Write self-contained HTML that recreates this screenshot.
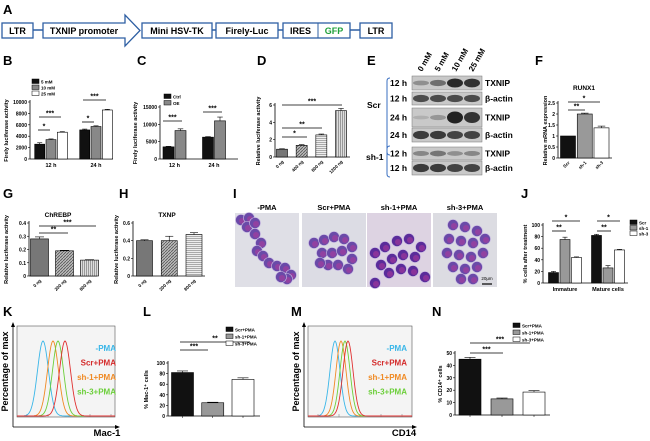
<!DOCTYPE html>
<html><head><meta charset="utf-8">
<style>
html,body{margin:0;padding:0;background:#fff;}
svg{display:block;font-family:"Liberation Sans",Arial,sans-serif;}
</style></head>
<body>
<svg id="fig" width="650" height="441" viewBox="0 0 650 441">
<defs>
<pattern id="hatch" width="3" height="3" patternUnits="userSpaceOnUse"><rect width="3" height="3" fill="#bbb"/><path d="M0,3 L3,0" stroke="#555" stroke-width="0.8"/></pattern>
<pattern id="vstripe" width="2" height="2" patternUnits="userSpaceOnUse"><rect width="2" height="2" fill="#ddd"/><rect width="1" height="2" fill="#999"/></pattern>
<pattern id="hstripe" width="2" height="2" patternUnits="userSpaceOnUse"><rect width="2" height="2" fill="#eee"/><rect width="2" height="1" fill="#aaa"/></pattern>
</defs>
<rect width="650" height="441" fill="#fff"/>

<g font-weight="bold" font-size="9">
<line x1="33" y1="30" x2="43" y2="30" stroke="#2e5fa3" stroke-width="1.5"/>
<line x1="212" y1="30" x2="216" y2="30" stroke="#2e5fa3" stroke-width="1.5"/>
<line x1="278" y1="30" x2="283" y2="30" stroke="#2e5fa3" stroke-width="1.5"/>
<line x1="350" y1="30" x2="360" y2="30" stroke="#2e5fa3" stroke-width="1.5"/>
<rect x="2" y="23" width="31" height="15" fill="#fff" stroke="#2e5fa3" stroke-width="1.3"/>
<text x="17.5" y="34" text-anchor="middle">LTR</text>
<polygon points="43,23 125,23 125,15 140,30.5 125,46 125,38 43,38" fill="#fff" stroke="#2e5fa3" stroke-width="1.3"/>
<text x="84" y="34" text-anchor="middle">TXNIP promoter</text>
<rect x="142" y="23" width="70" height="15" fill="#fff" stroke="#2e5fa3" stroke-width="1.3"/>
<text x="177" y="34" text-anchor="middle">Mini HSV-TK</text>
<rect x="216" y="23" width="62" height="15" fill="#fff" stroke="#2e5fa3" stroke-width="1.3"/>
<text x="247" y="34" text-anchor="middle">Firely-Luc</text>
<rect x="283" y="23" width="67" height="15" fill="#fff" stroke="#2e5fa3" stroke-width="1.3"/>
<line x1="318" y1="23" x2="318" y2="38" stroke="#2e5fa3" stroke-width="1"/>
<text x="300.5" y="34" text-anchor="middle">IRES</text>
<text x="334" y="34" text-anchor="middle" fill="#1ea03a">GFP</text>
<rect x="360" y="23" width="32" height="15" fill="#fff" stroke="#2e5fa3" stroke-width="1.3"/>
<text x="376" y="34" text-anchor="middle">LTR</text>
</g>

<g id="letters" font-weight="bold" font-size="13">
<text x="3" y="14">A</text><text x="3" y="65">B</text><text x="137" y="65">C</text><text x="257" y="65">D</text>
<text x="367" y="65">E</text><text x="535" y="65">F</text>
<text x="3" y="198">G</text><text x="119" y="198">H</text><text x="233" y="198">I</text><text x="521" y="198">J</text>
<text x="3" y="316">K</text><text x="143" y="316">L</text><text x="291" y="316">M</text><text x="432" y="316">N</text>
</g>

<g id="panelE" font-weight="bold" font-size="8.5"></g>
<g id="panelI"></g>
<g id="charts"></g>
<g id="flow"></g>
</svg>
<script>
// ---------- data ----------
const bCats = ["12 h","24 h"];
const b5mM = [2600,5100];
const b10mM = [3400,5700];
const b25mM = [4700,8600];
const bErr = [[250,150],[120,120],[100,120]];
const bTicks = [0,2000,4000,6000,8000,10000];

const cCats = ["12 h","24 h"];
const cCtrl = [3500,6300];
const cOE = [8200,11000];
const cErr = [[150,150],[500,1100]];
const cTicks = [0,5000,10000,15000];

const dCats = ["0 ng","400 ng","800 ng","1200 ng"];
const dVals = [0.9,1.35,2.55,5.35];
const dErr = [0.05,0.08,0.1,0.25];
const dTicks = [0,2,4,6];

const fCats = ["Scr","sh-1","sh-3"];
const fVals = [1.0,2.0,1.37];
const fErr = [0,0.04,0.08];
const fTicks = [0,0.5,1.0,1.5,2.0,2.5];

const gCats = ["0 ng","200 ng","800 ng"];
const gVals = [0.28,0.19,0.12];
const gErr = [0.015,0.004,0.003];
const gTicks = [0,0.1,0.2,0.3,0.4];

const hCats = ["0 ng","200 ng","800 ng"];
const hVals = [0.40,0.40,0.47];
const hErr = [0.01,0.05,0.02];
const hTicks = [0,0.2,0.4,0.6];

const jCats = ["Immature","Mature cells"];
const jScr = [18,82];
const jSh1 = [75,26];
const jSh3 = [44,57];
const jErr = [[2,2],[4,4],[1,1]];
const jTicks = [0,20,40,60,80,100];

const lCats = ["","",""];
const lVals = [82,25,69];
const lErr = [3,1,3];
const lTicks = [0,20,40,60,80,100];

const nCats = ["","",""];
const nVals = [45,13,18.5];
const nErr = [1.5,0.7,1.2];
const nTicks = [0,10,20,30,40,50];

const kPeaks = [43,53,58,65];   // -PMA, sh-1, sh-3, Scr peak x
const mPeaks = [335,341,345,348];
const flowColors = ["#39b6e8","#f08a24","#6ccf3a","#e03030"];

const NS="http://www.w3.org/2000/svg";
function el(tag,attrs,parent){const e=document.createElementNS(NS,tag);for(const k in attrs)e.setAttribute(k,attrs[k]);(parent||document.getElementById('charts')).appendChild(e);return e;}
function txt(str,attrs,parent){const t=el('text',attrs,parent);t.textContent=str;return t;}

function barChart(o){
  const g=el('g',{});
  
  
  const ys=v=>o.y0-(v/o.vmax)*(o.y0-o.y1);
  const nG=o.cats.length, nS=o.series.length;
  const xc=i=>nG>1?o.cx0+i*(o.cx1-o.cx0)/(nG-1):o.cx0;
  el('line',{x1:o.x0,y1:o.y1-2,x2:o.x0,y2:o.y0,stroke:'#000','stroke-width':0.8},g);
  el('line',{x1:o.x0,y1:o.y0,x2:o.xe,y2:o.y0,stroke:'#000','stroke-width':0.8},g);
  o.ticks.forEach(t=>{const y=ys(t);
    el('line',{x1:o.x0-2,y1:y,x2:o.x0,y2:y,stroke:'#000','stroke-width':0.6},g);
    const tl=txt(String(t),{x:o.x0-3,y:y+2,'font-size':5,'text-anchor':'end','font-weight':'bold'},g);
    
    
  });
  o.cats.forEach((c,gi)=>{
    const gc=xc(gi);
    o.series.forEach((s,si)=>{
      const bw=o.bw, x=gc+(si-(nS-1)/2)*(bw+o.gap)-bw/2;
      const v=s[gi], y=ys(v);
      const r=el('rect',{x:x,y:y,width:bw,height:o.y0-y,fill:Array.isArray(o.fills[si])?o.fills[si][gi]:o.fills[si],stroke:'#000','stroke-width':0.6},g);
      
      
      const e=o.errs[si][gi];
      if(e){const ye=ys(v+e);el('line',{x1:x+bw/2,y1:y,x2:x+bw/2,y2:ye,stroke:'#000','stroke-width':0.6},g);el('line',{x1:x+bw*0.25,y1:ye,x2:x+bw*0.75,y2:ye,stroke:'#000','stroke-width':0.6},g);}
    });
    if(!c){el('line',{x1:gc,y1:o.y0,x2:gc,y2:o.y0+2,stroke:'#000','stroke-width':0.5},g);return;}
    if(o.rot){const tx=gc+2, ty=o.y0+5;const t=txt(c,{x:tx,y:ty,'font-size':4.5,'text-anchor':'end','font-weight':'bold',transform:`rotate(-45 ${tx} ${ty})`},g);
      }
    else{const t=txt(c,{x:gc,y:o.y0+8,'font-size':5.5,'text-anchor':'middle','font-weight':'bold'},g);
      }
  });
  if(o.ylabel){const cx=o.x0-o.ylOff, cy=(o.y0+o.y1)/2;
    const t=txt(o.ylabel,{x:cx,y:cy,'font-size':5.5,'font-weight':'bold','text-anchor':'middle',transform:`rotate(-90 ${cx} ${cy})`},g);
    }
  if(o.title){const t=txt(o.title,{x:o.tx,y:o.ty,'font-size':6.5,'font-weight':'bold','text-anchor':'middle'},g);
    }
  (o.sig||[]).forEach(s=>{
    el('line',{x1:s[0],y1:s[2],x2:s[1],y2:s[2],stroke:'#000','stroke-width':0.8},g);
    txt(s[3],{x:(s[0]+s[1])/2,y:s[2]-1.5,'font-size':7,'font-weight':'bold','text-anchor':'middle'},g);});
  (o.legend||[]).forEach((l,i)=>{const y=o.legY+i*o.legDy;
    el('rect',{x:o.legX,y:y-4,width:7,height:4.5,fill:l[1],stroke:'#000','stroke-width':0.5},g);
    const t=txt(l[0],{x:o.legX+9,y:y+0.5,'font-size':4.5,'font-weight':'bold'},g);
    });
  return g;
}

barChart({name:'panel-b-chart',x0:30,xe:113,y0:159,y1:102,vmax:10000,ticks:bTicks,cats:bCats,cx0:51,cx1:96,series:[b5mM,b10mM,b25mM],errs:bErr,bw:10,gap:1.3,
  fills:['#111','#888','#fff'],ylabel:'Firely luciferase activity',ylOff:22,
  sig:[[38,50,130,'*'],[39,61,117,'***'],[82,94,122,'*'],[83,106,100,'***']],
  legend:[['5 mM','#111'],['10 mM','#888'],['25 mM','#fff']],legX:32,legY:83,legDy:6});
barChart({name:'panel-c-chart',x0:160,xe:238,y0:159,y1:107,vmax:15000,ticks:cTicks,cats:cCats,cx0:174.5,cx1:214,series:[cCtrl,cOE],errs:cErr,bw:11,gap:1,
  fills:['#111','#888'],ylabel:'Firely luciferase activity',ylOff:23,
  sig:[[163,182,121,'***'],[203,222,112,'***']],
  legend:[['Ctrl','#111'],['OE','#888']],legX:164,legY:98,legDy:6.5});
barChart({name:'panel-d-chart',x0:275,xe:350,y0:157,y1:105,vmax:6,ticks:dTicks,cats:dCats,cx0:282,cx1:341,series:[dVals],errs:[dErr],bw:11,gap:0,rot:true,
  fills:[['#777','url(#hatch)','url(#hstripe)','url(#vstripe)']],ylabel:'Relative luciferase activity',ylOff:15,
  sig:[[282,307,137,'*'],[282,322,128,'**'],[282,342,105,'***']]});
barChart({name:'panel-f-chart',x0:558,xe:612,y0:158,y1:103,vmax:2.5,ticks:fTicks,cats:fCats,cx0:568,cx1:601.5,series:[fVals],errs:[fErr],bw:15,gap:0,rot:true,
  fills:[['#111','#999','#fff']],ylabel:'Relative mRNA expression',ylOff:11,title:'RUNX1',tx:584,ty:90,
  sig:[[568,585,110,'**'],[568,600,102,'*']]});
barChart({name:'panel-g-chart',x0:29,xe:97,y0:276,y1:223,vmax:0.4,ticks:gTicks,cats:gCats,cx0:39.5,cx1:89.5,series:[gVals],errs:[gErr],bw:18,gap:0,rot:true,
  fills:[['#777','url(#hatch)','url(#vstripe)']],ylabel:'Relative luciferase activity',ylOff:21,title:'ChREBP',tx:58,ty:217,
  sig:[[39,68,233,'**'],[39,96,226,'***']]});
barChart({name:'panel-h-chart',x0:133,xe:205,y0:276,y1:223,vmax:0.6,ticks:hTicks,cats:hCats,cx0:144.5,cx1:194,series:[hVals],errs:[hErr],bw:16,gap:0,rot:true,
  fills:[['#777','url(#hatch)','url(#hstripe)']],ylabel:'Relative luciferase activity',ylOff:15,title:'TXNP',tx:167,ty:217});
barChart({name:'panel-j-chart',x0:543,xe:628,y0:283,y1:225,vmax:100,ticks:jTicks,cats:jCats,cx0:565,cx1:608,series:[jScr,jSh1,jSh3],errs:jErr,bw:10,gap:1.5,
  fills:['#111','#999','#fff'],ylabel:'% cells after treatment',ylOff:16,
  sig:[[552,566,231,'**'],[552,580,221,'*'],[597,611,231,'**'],[597,620,221,'*']],
  legend:[['Scr','#111'],['sh-1','#999'],['sh-3','#fff']],legX:630,legY:224,legDy:5.5});
barChart({name:'panel-l-chart',x0:168,xe:260,y0:416,y1:363,vmax:100,ticks:lTicks,cats:lCats,cx0:182.5,cx1:243,series:[lVals],errs:[lErr],bw:22,gap:0,
  fills:[['#111','#999','#fff']],ylabel:'% Mac-1⁺ cells',ylOff:20,
  sig:[[180,208,350,'***'],[180,250,342,'**']],
  legend:[['Scr+PMA','#111'],['sh-1+PMA','#999'],['sh-3+PMA','#fff']],legX:226,legY:331,legDy:7});
barChart({name:'panel-n-chart',x0:455,xe:550,y0:415,y1:353,vmax:50,ticks:nTicks,cats:nCats,cx0:470,cx1:534,series:[nVals],errs:[nErr],bw:22,gap:0,
  fills:[['#111','#999','#fff']],ylabel:'% CD14⁺ cells',ylOff:13,
  sig:[[470,503,353,'***'],[470,530,343,'***']],
  legend:[['Scr+PMA','#111'],['sh-1+PMA','#999'],['sh-3+PMA','#fff']],legX:513,legY:327,legDy:7});

// ---------- Panel E western blot ----------
(function(){
  const g=document.getElementById('panelE');
  const conc=["0 mM","5 mM","10 mM","25 mM"];
  conc.forEach((c,i)=>{const x=422+i*17,y=72;const t=txt(c,{x:x,y:y,'font-size':8,transform:`rotate(-60 ${x} ${y})`},g);
    });
  const rows=[[76,14,'12 h','TXNIP',[0.35,0.55,0.95,0.9]],[92,13,'12 h','β-actin',[0.75,0.75,0.75,0.75]],
    [108,19,'24 h','TXNIP',[0.15,0.3,1,0.9]],[128,14,'24 h','β-actin',[0.85,0.85,0.8,0.8]],
    [147,13,'12 h','TXNIP',[0.4,0.5,0.35,0.4]],[161,14,'12 h','β-actin',[0.85,0.85,0.8,0.8]]];
  rows.forEach(r=>{
    const b=el('rect',{x:412,y:r[0],width:70,height:r[1],fill:'#c9c9c9',stroke:'#777','stroke-width':0.5},g);
    
    r[4].forEach((v,i)=>{el('ellipse',{cx:421+i*17,cy:r[0]+r[1]/2,rx:8,ry:1.2+v*r[1]*0.25,fill:'#222','fill-opacity':v},g);});
    txt(r[2],{x:390,y:r[0]+r[1]/2+3},g);txt(r[3],{x:485,y:r[0]+r[1]/2+3},g);
  });
  txt('Scr',{x:367,y:108},g);txt('sh-1',{x:366,y:160},g);
  el('path',{d:'M390,78 Q387,78 387,81 L387,152 Q387,155 390,155',fill:'none',stroke:'#3a6fc0','stroke-width':1},g);
  el('path',{d:'M390,146 Q387,146 387,149 L387,174 Q387,177 390,177',fill:'none',stroke:'#3a6fc0','stroke-width':1},g);
})();

// ---------- Panel I cell images ----------
(function(){
  const g=document.getElementById('panelI');
  const labels=["-PMA","Scr+PMA","sh-1+PMA","sh-3+PMA"];
  const bgs=["#dfdfe6","#dcdce4","#ddd3e2","#dcdce2"];
  const xs=[235,302,367,433];
  labels.forEach((l,i)=>{
    const x=xs[i];
    const r=el('rect',{x:x,y:213,width:64,height:74,fill:bgs[i]},g);
    
    const t=txt(l,{x:x+32,y:210,'font-size':7.5,'font-weight':'bold','text-anchor':'middle'},g);
    
  });
  const cells=[[0,6,7],[0,14,5],[0,12,14],[0,20,21],[0,26,30],[0,22,38],[0,28,43],[0,34,50],[0,42,53],[0,50,55],[0,56,62],[0,52,66],[0,46,64],[0,20,10],
    [1,12,30],[1,22,27],[1,32,24],[1,42,26],[1,50,34],[1,20,40],[1,30,40],[1,40,38],[1,50,46],[1,26,52],[1,36,52],[1,46,56],[1,18,50],
    [2,8,40],[2,18,34],[2,30,28],[2,42,26],[2,54,34],[2,14,52],[2,25,46],[2,36,42],[2,48,44],[2,22,60],[2,34,56],[2,46,58],[2,8,70],[2,58,64],
    [3,20,12],[3,32,14],[3,44,18],[3,16,26],[3,28,28],[3,40,30],[3,52,26],[3,14,40],[3,26,42],[3,38,44],[3,50,40],[3,20,54],[3,32,56],[3,44,54],[3,28,66],[3,40,66]];
  cells.forEach(c=>{const cx=xs[c[0]]+c[1], cy=213+c[2];
    el('circle',{cx:cx,cy:cy,r:5.5,fill:c[0]==2?'#5a2c9a':'#6a4aa8',stroke:'#c7b8e2','stroke-width':0.6},g);
    el('circle',{cx:cx+1,cy:cy+1,r:3,fill:'#b03a9a','fill-opacity':0.55},g);});
  el('line',{x1:482,y1:284,x2:492,y2:284,stroke:'#000','stroke-width':1.2},g);
  txt('20μm',{x:487,y:280,'font-size':4.5,'text-anchor':'middle'},g);
})();

// ---------- Flow histograms K & M ----------
function flowPanel(name,fx,fw,peaks,axisLabel,sd,labX){
  const g=el('g',{},document.getElementById('flow'));
  
  
  const y0=417, y1=326;
  el('rect',{x:fx,y:y1,width:fw,height:y0-y1,fill:'#f4f4f4',stroke:'#555','stroke-width':0.6},g);
  el('line',{x1:fx-4,y1:y0+10,x2:fx-4,y2:y1-2,stroke:'#000','stroke-width':0.8},g);
  el('line',{x1:fx-4,y1:y0+10,x2:fx+fw+2,y2:y0+10,stroke:'#000','stroke-width':0.8},g);
  el('polygon',{points:`${fx-6},${y1+1} ${fx-4},${y1-4} ${fx-2},${y1+1}`,fill:'#000'},g);
  el('polygon',{points:`${fx+fw},${y0+8} ${fx+fw+5},${y0+10} ${fx+fw},${y0+12}`,fill:'#000'},g);
  for(let i=0;i<5;i++)el('line',{x1:fx+10+i*21,y1:y0-3,x2:fx+10+i*21,y2:y0,stroke:'#777','stroke-width':0.5},g);
  const cx=fx-9, cy=(y0+y1)/2;
  txt('Percentage of max',{x:cx,y:cy,'font-size':9,'font-weight':'bold','text-anchor':'middle',transform:`rotate(-90 ${cx} ${cy})`},g);
  txt(axisLabel,{x:fx+fw-8,y:y0+19,'font-size':9.5,'font-weight':'bold','text-anchor':'middle'},g);
  peaks.forEach((p,i)=>{
    let d='';
    for(let x=fx;x<=fx+fw;x+=1){const y=y0-1-(y0-y1-16)*Math.exp(-((x-p)*(x-p))/(2*sd*sd));d+=(x===fx?'M':'L')+x+','+y.toFixed(1);}
    const pth=el('path',{d:d,fill:'none',stroke:flowColors[i],'stroke-width':0.9},g);
    
    
  });
  const leg=[['-PMA','#39b6e8'],['Scr+PMA','#d42a2a'],['sh-1+PMA','#f08a24'],['sh-3+PMA','#6ccf3a']];
  leg.forEach((l,i)=>{const t=txt(l[0],{x:labX,y:351+i*14.5,'font-size':8,'font-weight':'bold','text-anchor':'end',fill:l[1]},g);
    });
}
flowPanel('panel-k-mac1-histogram',17,98,kPeaks,'Mac-1',5.5,116);
flowPanel('panel-m-cd14-histogram',308,104,mPeaks,'CD14',5,407);
</script>
</body></html>
